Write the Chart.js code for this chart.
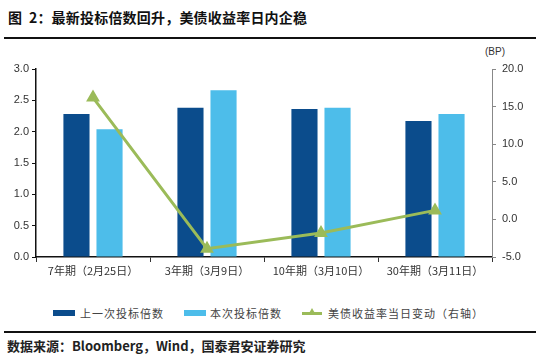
<!DOCTYPE html>
<html><head><meta charset="utf-8">
<script src="https://cdn.jsdelivr.net/npm/chart.js@4/dist/chart.umd.min.js"></script>
<style>
html,body{margin:0;padding:0;background:#fff;}
body{width:547px;height:357px;position:relative;overflow:hidden;font-family:"Noto Sans CJK SC","Liberation Sans",sans-serif;}
#title{position:absolute;left:8px;top:7px;font-size:14px;font-weight:bold;color:#111;white-space:nowrap;letter-spacing:0.2px;}
.rule{position:absolute;left:4px;width:532px;height:2px;background:#111;}
#src{position:absolute;left:7px;top:337px;font-size:13px;font-weight:bold;color:#222;white-space:nowrap;line-height:17px;}
#bp{position:absolute;left:485px;top:46px;font-size:10px;color:#333;font-family:"Liberation Sans",sans-serif;}
#wrap{position:absolute;left:0;top:40px;width:547px;height:250px;}
#legend{position:absolute;top:305px;left:0;width:547px;height:16px;font-size:11px;color:#444;letter-spacing:1px;}
.li{position:absolute;top:0;height:16px;line-height:16px;white-space:nowrap;}
.sw{position:absolute;top:5px;width:22px;height:6px;}
.ln{position:absolute;top:7px;width:20px;height:3px;background:#9BBB59;}
.tri{position:absolute;top:3px;left:6px;width:0;height:0;border-left:4px solid transparent;border-right:4px solid transparent;border-bottom:7px solid #9BBB59;}
</style></head>
<body>
<div id="title">图&nbsp;&nbsp;2：最新投标倍数回升，美债收益率日内企稳</div>
<div class="rule" style="top:37px"></div>
<div id="bp">(BP)</div>
<div id="wrap"><canvas id="c" width="547" height="250"></canvas></div>
<div id="legend">
  <div class="sw" style="left:53px;background:#0B4C8C"></div><div class="li" style="left:80px">上一次投标倍数</div>
  <div class="sw" style="left:184px;background:#4DBDEA"></div><div class="li" style="left:210px">本次投标倍数</div>
  <div style="position:absolute;left:302px;top:0;width:20px;height:16px"><div class="ln" style="left:0"></div><div class="tri"></div></div><div class="li" style="left:328px">美债收益率当日变动（右轴）</div>
</div>
<div class="rule" style="top:331px"></div>
<div id="src">数据来源：Bloomberg，Wind，国泰君安证券研究</div>
<script>
const categories = ["7年期（2月25日）", "3年期（3月9日）", "10年期（3月10日）", "30年期（3月11日）"];
const previousBidToCover = [2.28, 2.38, 2.36, 2.17];
const currentBidToCover = [2.04, 2.66, 2.38, 2.28];
const yieldChangeBP = [16.2, -3.9, -1.8, 1.2];
const leftTicks = [0, 0.5, 1.0, 1.5, 2.0, 2.5, 3.0];
const rightTicks = [-5, 0, 5, 10, 15, 20];

const tickFont = {family: "'Liberation Sans', sans-serif", size: 11};
new Chart(document.getElementById('c'), {
  data: {
    labels: categories,
    datasets: [
      {type: 'line', label: '美债收益率当日变动（右轴）', data: yieldChangeBP, yAxisID: 'y1',
       borderColor: '#9BBB59', backgroundColor: '#9BBB59', borderWidth: 3,
       pointStyle: 'triangle', pointRadius: 5, pointHoverRadius: 5, order: 0, tension: 0},
      {type: 'bar', label: '上一次投标倍数', data: previousBidToCover, yAxisID: 'y',
       backgroundColor: '#0B4C8C', categoryPercentage: 0.58, barPercentage: 0.79, order: 1},
      {type: 'bar', label: '本次投标倍数', data: currentBidToCover, yAxisID: 'y',
       backgroundColor: '#4DBDEA', categoryPercentage: 0.58, barPercentage: 0.79, order: 1}
    ]
  },
  options: {
    responsive: false, animation: false, devicePixelRatio: 1,
    layout: {padding: {top: 29, left: 0, right: 0, bottom: 0}},
    plugins: {legend: {display: false}, tooltip: {enabled: false}},
    scales: {
      x: {
        offset: true,
        grid: {offset: true, drawOnChartArea: false, drawTicks: true, tickLength: 5, color: '#333'},
        border: {color: '#111', width: 1.5},
        ticks: {font: {family: "'Noto Sans CJK SC', sans-serif", size: 11}, color: '#333', padding: 2, maxRotation: 0, autoSkip: false},
        afterFit: s => { s.height = 33; }
      },
      y: {
        position: 'left', min: 0, max: 3,
        afterBuildTicks: s => { s.ticks = leftTicks.map(v => ({value: v})); },
        grid: {drawOnChartArea: false, drawTicks: true, tickLength: 4, color: '#111'},
        border: {color: '#111', width: 1.5},
        ticks: {font: tickFont, color: '#333', padding: 3, callback: v => Number(v).toFixed(1)},
        afterFit: s => { s.width = 36; }
      },
      y1: {
        position: 'right', min: -5, max: 20,
        afterBuildTicks: s => { s.ticks = rightTicks.map(v => ({value: v})); },
        grid: {drawOnChartArea: false, drawTicks: true, tickLength: 4, color: '#888'},
        border: {color: '#888', width: 1},
        ticks: {font: tickFont, color: '#333', padding: 6, callback: v => Number(v).toFixed(1)},
        afterFit: s => { s.width = 55; }
      }
    }
  }
});
</script>
</body></html>
